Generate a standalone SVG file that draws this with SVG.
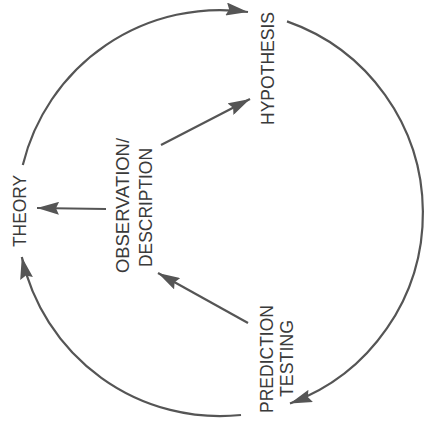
<svg xmlns="http://www.w3.org/2000/svg" width="425" height="422" viewBox="0 0 425 422">
  <style>
    .lbl { font-family: "Liberation Sans", Arial, sans-serif; font-size: 18.5px; fill: #3a3a3a; text-anchor: middle; }
    .con { fill: none; stroke: #555; stroke-width: 2.2; marker-end: url(#ah); }
  </style>
  <defs>
    <marker id="ah" viewBox="0 0 22 13" refX="22" refY="6.5" markerWidth="22" markerHeight="13" markerUnits="userSpaceOnUse" orient="auto">
      <path d="M0,0 L22,6.5 L0,13 L3,6.5 z" fill="#555"/>
    </marker>
  </defs>
  <rect width="425" height="422" fill="#ffffff"/>
  <g id="connectors">
    <path class="con" d="M22.8,165 A203,203 0 0 1 248,12"/>
    <path class="con" d="M287,21.4 A203,203 0 0 1 290,403.5"/>
    <path class="con" d="M241,415 A203,203 0 0 1 21.8,257"/>
    <path class="con" d="M161,145 L250,99"/>
    <path class="con" d="M106,209 L37,208"/>
    <path class="con" d="M248,323 L158,273"/>
  </g>
  <g id="theory">
    <text class="lbl" transform="translate(25.5,211) rotate(-90)" textLength="72" lengthAdjust="spacingAndGlyphs">THEORY</text>
  </g>
  <g id="hypothesis">
    <text class="lbl" transform="translate(273.5,68.5) rotate(-90)" textLength="113" lengthAdjust="spacingAndGlyphs">HYPOTHESIS</text>
  </g>
  <g id="observation">
    <text class="lbl" transform="translate(128.5,205.5) rotate(-90)" textLength="135" lengthAdjust="spacingAndGlyphs">OBSERVATION/</text>
    <text class="lbl" transform="translate(151.5,207.5) rotate(-90)" textLength="119" lengthAdjust="spacingAndGlyphs">DESCRIPTION</text>
  </g>
  <g id="prediction">
    <text class="lbl" transform="translate(272.5,359) rotate(-90)" textLength="108" lengthAdjust="spacingAndGlyphs">PREDICTION</text>
    <text class="lbl" transform="translate(292.5,358.5) rotate(-90)" textLength="77" lengthAdjust="spacingAndGlyphs">TESTING</text>
  </g>
</svg>
